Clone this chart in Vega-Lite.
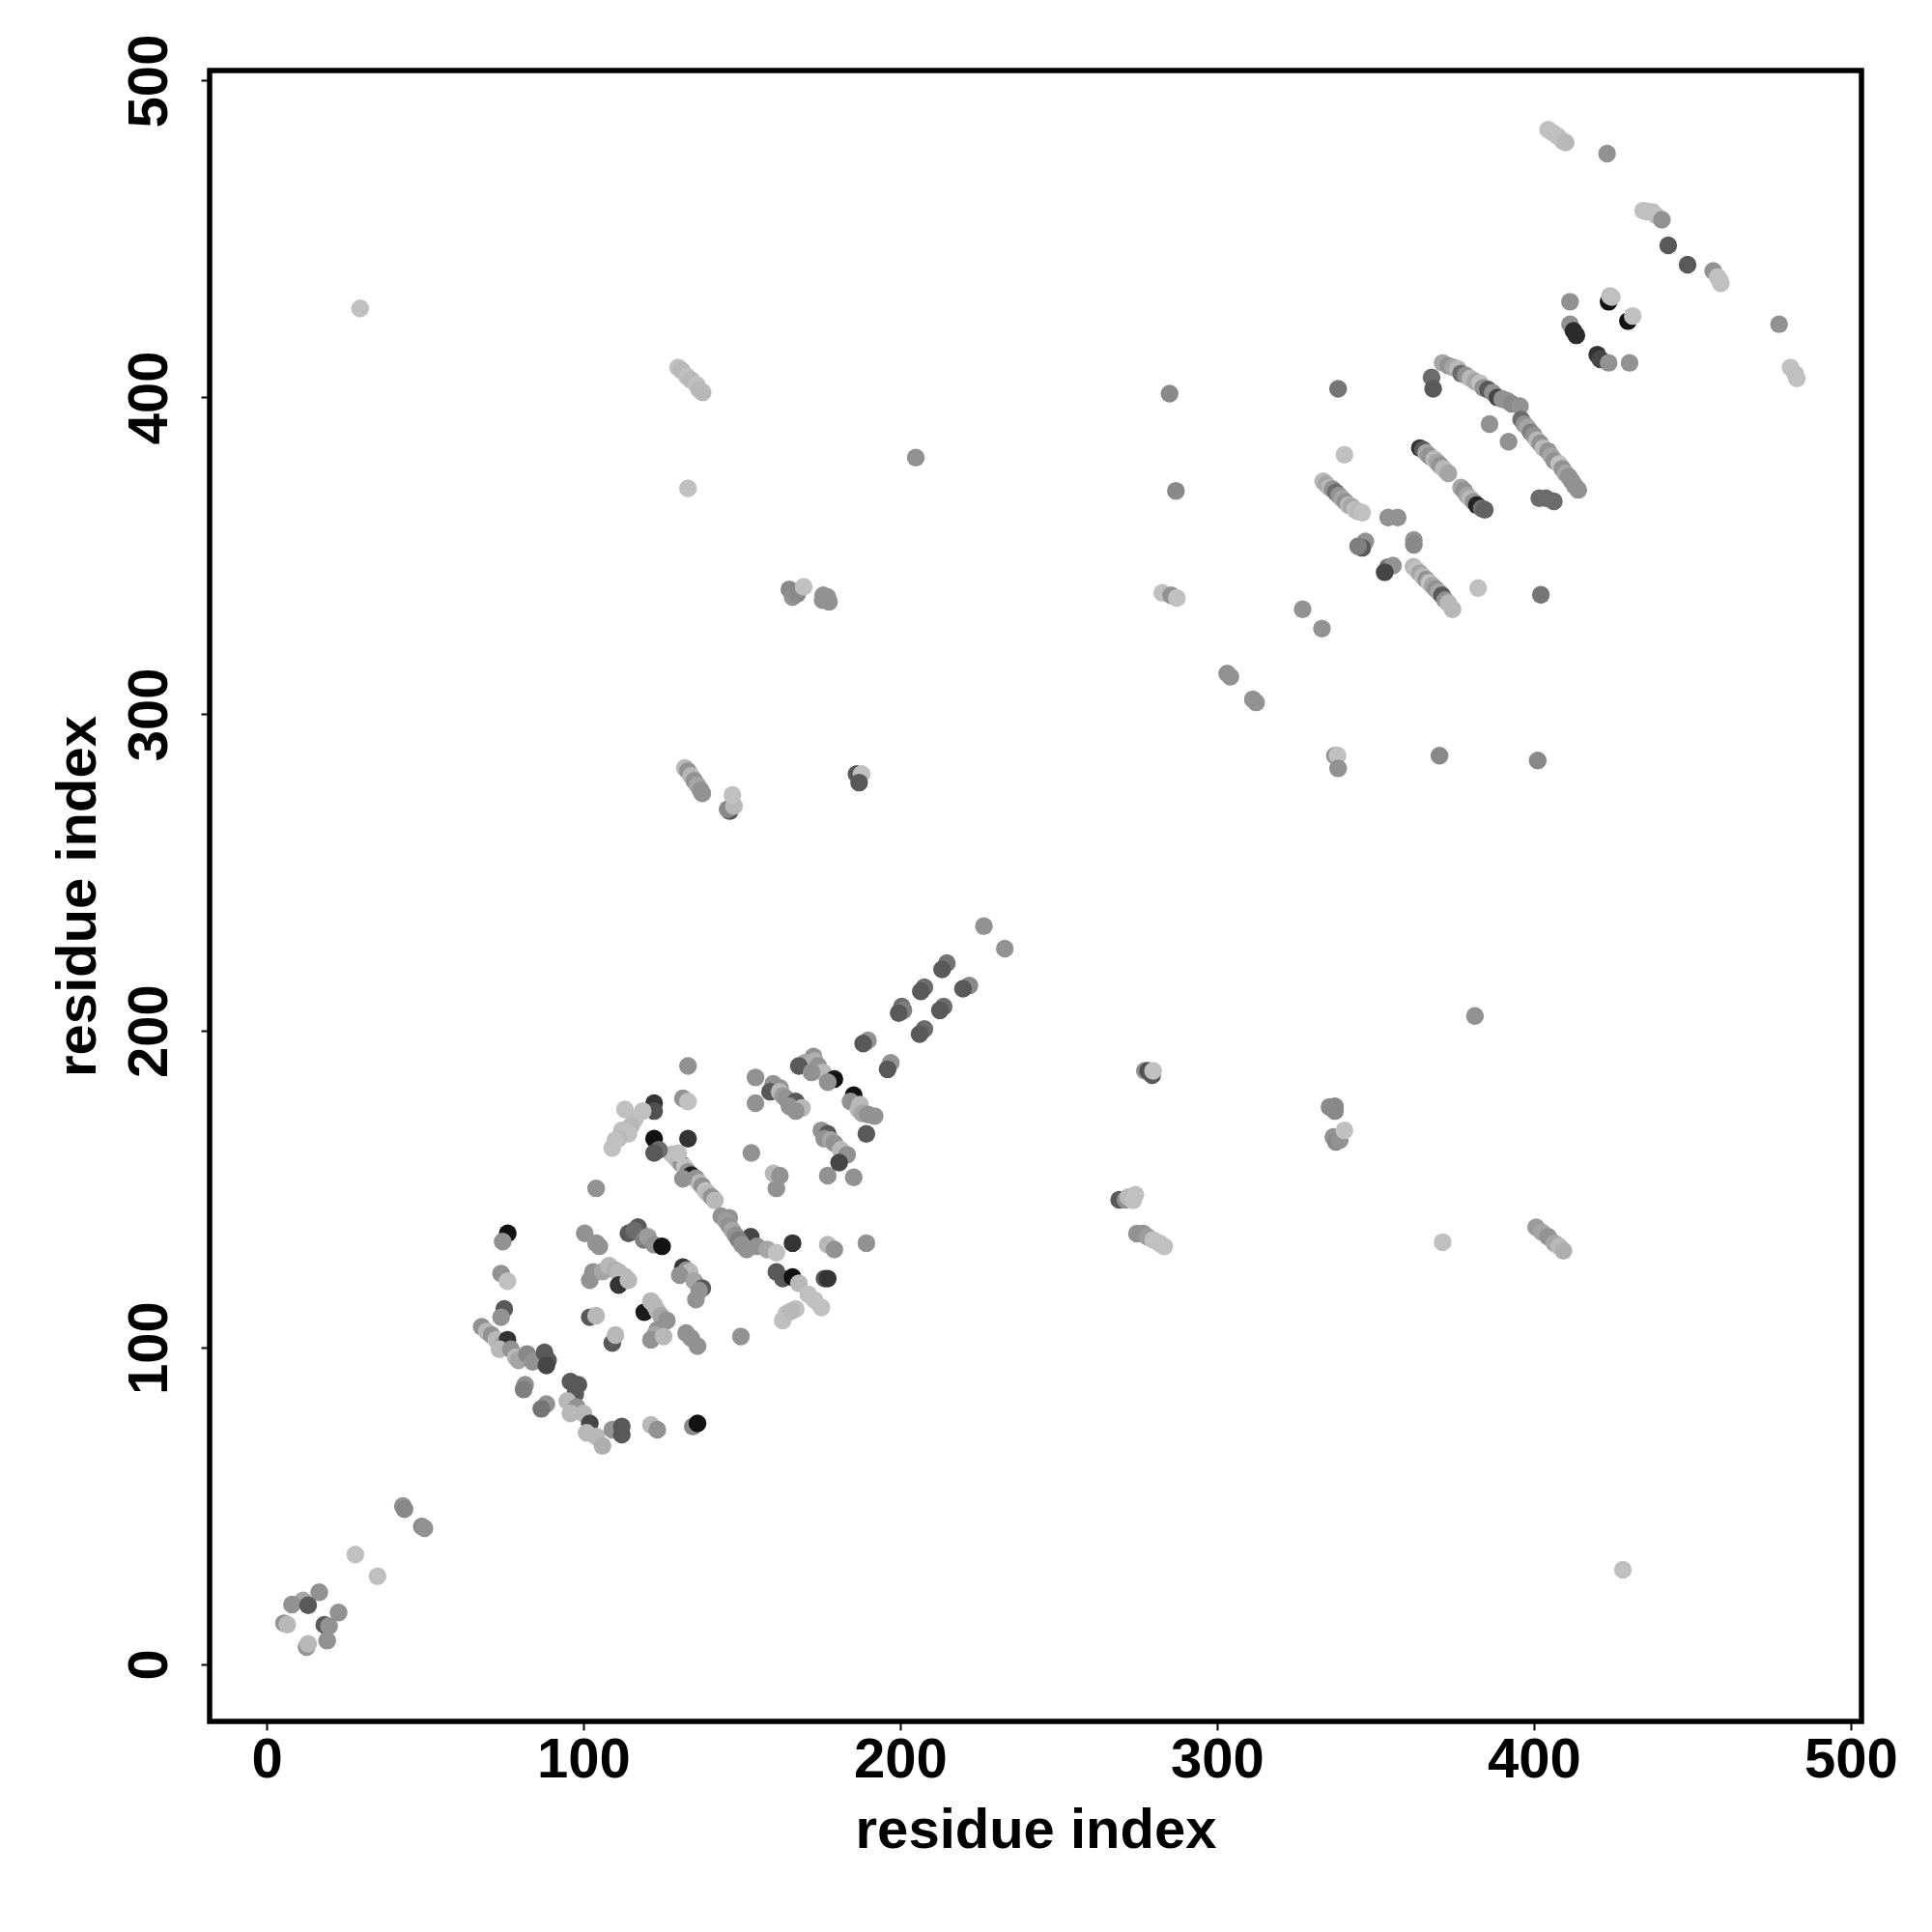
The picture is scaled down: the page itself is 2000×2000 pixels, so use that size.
{
"$schema": "https://vega.github.io/schema/vega-lite/v6.json",
"width": 1710, "height": 1709,
"autosize": {"type": "none"},
"padding": {"left": 217, "top": 73, "right": 73, "bottom": 218},
"background": "white",
"config": {"view": {"stroke": "black", "strokeWidth": 5.5}, "font": "Liberation Sans"},
"data": {"values": [
{"i":43,"j":50,"g":0.3},{"i":43.5,"j":49,"g":0.35},{"i":49,"j":43.5,"g":0.35},{"i":49.8,"j":43,"g":0.3},{"i":28,"j":34.7,"g":0.05},{"i":35,"j":27.8,"g":0.05},
{"i":5.5,"j":13,"g":0.3},{"i":6.5,"j":12.6,"g":0.1},{"i":11.5,"j":20.2,"g":0.2},{"i":16.6,"j":22.8,"g":0.3},{"i":8,"j":18.9,"g":0.3},{"i":13.1,"j":18.7,"g":0.6},{"i":22.7,"j":16.4,"g":0.3},{"i":18.2,"j":12.5,"g":0.6},{"i":19.7,"j":12.1,"g":0.3},{"i":12.6,"j":5.5,"g":0.3},{"i":13.1,"j":6.5,"g":0.1},{"i":19.1,"j":7.5,"g":0.3},
{"i":104,"j":150.3,"g":0.3},
{"i":76.1,"j":136.1,"g":1},{"i":74.5,"j":133.5,"g":0.3},
{"i":74,"j":123.4,"g":0.3},{"i":76,"j":121,"g":0.05},
{"i":75,"j":112.2,"g":0.6},{"i":74,"j":109.6,"g":0.3},
{"i":67.9,"j":106.6,"g":0.3},{"i":69.5,"j":105.1,"g":0.1},{"i":71,"j":104,"g":0.3},{"i":72.5,"j":102.5,"g":0.1},{"i":74.5,"j":101,"g":0.2},{"i":76,"j":102.5,"g":0.8},{"i":73.5,"j":99.5,"g":0.1},{"i":77.1,"j":99.5,"g":0.3},{"i":78.6,"j":97,"g":0.1},{"i":79.5,"j":96,"g":0.2},{"i":82.2,"j":98,"g":0.35},{"i":84,"j":95.5,"g":0.3},{"i":87.7,"j":98.5,"g":0.6},{"i":88.8,"j":96,"g":0.6},{"i":88.3,"j":94.4,"g":0.7},{"i":81.6,"j":88.3,"g":0.3},{"i":81.1,"j":86.8,"g":0.4},{"i":88.3,"j":82.2,"g":0.3},{"i":86.7,"j":80.7,"g":0.45},
{"i":95.9,"j":89.3,"g":0.6},{"i":98.4,"j":88.3,"g":0.6},{"i":97.4,"j":85.3,"g":0.6},{"i":94.9,"j":83.2,"g":0.1},{"i":97.9,"j":81.2,"g":0.3},{"i":95.9,"j":79.2,"g":0.1},{"i":100,"j":79.2,"g":0.1},{"i":102,"j":76.1,"g":0.7},{"i":101,"j":73.1,"g":0.1},{"i":104,"j":72,"g":0.1},{"i":106,"j":69,"g":0.15},{"i":109.1,"j":74.1,"g":0.3},{"i":112.1,"j":75.1,"g":0.6},{"i":112.1,"j":72.6,"g":0.6},
{"i":121.3,"j":75.6,"g":0.1},{"i":123.3,"j":74.1,"g":0.3},
{"i":134.5,"j":75.1,"g":0.35},{"i":136,"j":76.1,"g":1},
{"i":100.4,"j":136.1,"g":0.3},{"i":104,"j":133,"g":0.3},{"i":105,"j":132,"g":0.3},
{"i":114.2,"j":136.1,"g":0.6},{"i":117.2,"j":138.1,"g":0.6},{"i":116,"j":137,"g":0.5},{"i":119,"j":134,"g":0.4},{"i":120.3,"j":135,"g":0.25},{"i":122.3,"j":132.5,"g":0.3},{"i":124.8,"j":132,"g":1},
{"i":103,"j":123.9,"g":0.3},{"i":102,"j":121.3,"g":0.3},{"i":106,"j":124,"g":0.2},{"i":108.1,"j":125.9,"g":0.1},{"i":110,"j":124.5,"g":0.15},{"i":111.1,"j":123.9,"g":0.1},{"i":113,"j":122.5,"g":0.1},{"i":111.1,"j":119.8,"g":0.8},{"i":114.2,"j":121.3,"g":0.1},
{"i":131.4,"j":125.4,"g":0.8},{"i":132.5,"j":124.5,"g":0.3},{"i":133.5,"j":123.9,"g":0.1},{"i":130.4,"j":122.9,"g":0.3},{"i":135,"j":121,"g":0.2},{"i":137.5,"j":118.8,"g":0.6},{"i":136.5,"j":118,"g":0.3},{"i":135.5,"j":115.2,"g":0.3},
{"i":119.2,"j":111.2,"g":0.95},{"i":121.3,"j":114.7,"g":0.1},{"i":122.3,"j":113.5,"g":0.1},{"i":123.3,"j":111.7,"g":0.1},{"i":124.5,"j":110,"g":0.2},{"i":126.3,"j":108.6,"g":0.3},{"i":123.3,"j":105.6,"g":0.3},{"i":122.5,"j":104,"g":0.2},{"i":121.3,"j":102.5,"g":0.3},{"i":125.3,"j":103.5,"g":0.1},
{"i":102,"j":109.6,"g":0.6},{"i":104,"j":110.1,"g":0.1},
{"i":109.1,"j":101.5,"g":0.6},{"i":110.1,"j":104,"g":0.1},
{"i":132.4,"j":104.6,"g":0.3},{"i":134,"j":103,"g":0.3},{"i":136,"j":100.5,"g":0.3},
{"i":149.7,"j":103.5,"g":0.3},
{"i":160.9,"j":150.3,"g":0.3},
{"i":152.8,"j":135,"g":0.7},{"i":154.8,"j":132,"g":0.3},{"i":158,"j":131,"g":0.2},{"i":160.9,"j":130,"g":0.05},{"i":166,"j":133,"g":0.8},
{"i":160.9,"j":123.9,"g":0.6},{"i":162.9,"j":121.8,"g":0.6},{"i":166,"j":122.3,"g":1},{"i":168,"j":120.3,"g":0.1},{"i":171,"j":116.8,"g":0.05},{"i":173,"j":115,"g":0.05},{"i":175.1,"j":112.7,"g":0.05},{"i":164,"j":110.7,"g":0.05},{"i":167,"j":112.2,"g":0.05},{"i":162.9,"j":108.6,"g":0.05},{"i":165.5,"j":111.5,"g":0.1},
{"i":176.1,"j":121.8,"g":0.6},{"i":177.1,"j":121.8,"g":0.8},
{"i":177.1,"j":132.5,"g":0.1},{"i":179.2,"j":131,"g":0.3},{"i":189.3,"j":133,"g":0.3},
{"i":128,"j":161,"g":0.1},{"i":129,"j":160,"g":0.05},{"i":130,"j":159,"g":0.1},{"i":131,"j":158,"g":0.3},{"i":132,"j":157,"g":0.05},{"i":133,"j":155.5,"g":0.3},{"i":134,"j":154.5,"g":0.9},{"i":135.5,"j":153.5,"g":0.3},{"i":136.5,"j":152,"g":0.1},{"i":137.5,"j":151,"g":0.3},{"i":138.5,"j":149.5,"g":0.05},{"i":139.5,"j":148.5,"g":0.1},{"i":140.5,"j":147.5,"g":0.3},{"i":141.5,"j":146.5,"g":0.1},
{"i":143.5,"j":141.5,"g":0.3},{"i":146,"j":141,"g":0.3},{"i":145,"j":140,"g":0.25},{"i":146,"j":138.5,"g":0.3},{"i":147,"j":137,"g":0.2},{"i":148,"j":135.5,"g":0.3},{"i":149,"j":134,"g":0.4},{"i":150,"j":132.5,"g":0.3},{"i":151.5,"j":131,"g":0.3},
{"i":133,"j":188.9,"g":0.3},
{"i":122.3,"j":177.2,"g":0.8},{"i":122.3,"j":174.7,"g":0.65},
{"i":131.4,"j":178.7,"g":0.3},{"i":133,"j":177.7,"g":0.05},
{"i":113.1,"j":175.2,"g":0.05},{"i":116.2,"j":172.1,"g":0.05},{"i":118.7,"j":174.7,"g":0.05},{"i":115,"j":170,"g":0.1},{"i":112.1,"j":168.6,"g":0.05},{"i":114.2,"j":167.5,"g":0.05},{"i":111,"j":166,"g":0.1},{"i":110.1,"j":165.5,"g":0.05},{"i":109.1,"j":163,"g":0.05},
{"i":122.3,"j":166,"g":1},{"i":123.8,"j":162.5,"g":0.5},{"i":122.3,"j":161.5,"g":0.6},
{"i":133,"j":166,"g":0.8},{"i":129.9,"j":161.4,"g":0.05},
{"i":131.4,"j":153.3,"g":0.3},
{"i":153,"j":161.5,"g":0.3},{"i":160,"j":155,"g":0.1},{"i":162,"j":154.3,"g":0.3},{"i":177.1,"j":154.3,"g":0.3},{"i":185.3,"j":153.8,"g":0.3},
{"i":226.4,"j":233.1,"g":0.3},{"i":233,"j":226,"g":0.3},
{"i":214.7,"j":221.4,"g":0.45},{"i":213.2,"j":219.4,"g":0.6},{"i":221.8,"j":214.3,"g":0.35},{"i":219.8,"j":213.3,"g":0.6},{"i":207.6,"j":213.8,"g":0.5},{"i":206.5,"j":212.5,"g":0.6},{"i":213.7,"j":207.7,"g":0.5},{"i":212.5,"j":206.5,"g":0.6},{"i":200.5,"j":207.7,"g":0.5},{"i":201,"j":206.5,"g":0.4},{"i":199.5,"j":205.6,"g":0.6},{"i":207.6,"j":200.6,"g":0.5},{"i":206.1,"j":199,"g":0.6},
{"i":189.8,"j":197,"g":0.3},{"i":188.3,"j":196,"g":0.6},{"i":197,"j":189.9,"g":0.3},{"i":196,"j":187.9,"g":0.6},
{"i":172.6,"j":191.9,"g":0.3},{"i":170,"j":190,"g":0.2},{"i":173,"j":190.5,"g":0.15},{"i":168,"j":188.9,"g":0.6},{"i":174.1,"j":188.9,"g":0.3},{"i":175.6,"j":186.9,"g":0.1},{"i":172,"j":186.9,"g":0.3},{"i":179.2,"j":184.8,"g":1},{"i":177.1,"j":183.8,"g":0.3},
{"i":154.3,"j":185.3,"g":0.3},{"i":154.3,"j":177.2,"g":0.3},
{"i":159.9,"j":183.3,"g":0.3},{"i":162,"j":182,"g":0.3},{"i":158.9,"j":180.8,"g":0.6},{"i":161.9,"j":180.8,"g":0.1},{"i":163,"j":179.5,"g":0.25},{"i":163.9,"j":178.7,"g":0.3},{"i":167,"j":177.7,"g":0.6},{"i":165,"j":176.2,"g":0.3},{"i":169,"j":175.7,"g":0.1},{"i":167,"j":174.7,"g":0.3},
{"i":185.3,"j":179.7,"g":1},{"i":184.3,"j":177.7,"g":0.3},{"i":187.3,"j":176.7,"g":0.1},{"i":186.8,"j":175.2,"g":0.1},{"i":188,"j":174,"g":0.2},{"i":189.8,"j":173.6,"g":0.3},{"i":191.9,"j":173.1,"g":0.3},{"i":189.3,"j":167.5,"g":0.6},
{"i":175.1,"j":168.6,"g":0.3},{"i":177.1,"j":167.5,"g":0.6},{"i":176,"j":166,"g":0.3},{"i":178,"j":165.5,"g":0.2},{"i":179.2,"j":164.5,"g":0.3},{"i":181.2,"j":162.5,"g":0.1},{"i":183.2,"j":160.9,"g":0.3},{"i":180.7,"j":158.4,"g":0.7},
{"i":29.5,"j":428.1,"g":0.05},
{"i":129.9,"j":409.4,"g":0.05},{"i":131,"j":408.5,"g":0.1},{"i":132.6,"j":406.7,"g":0.05},{"i":134,"j":405.5,"g":0.1},{"i":135.7,"j":404,"g":0.05},{"i":136.5,"j":402.5,"g":0.1},{"i":137.6,"j":401.6,"g":0.1},
{"i":133,"j":371.3,"g":0.05},{"i":204.9,"j":381,"g":0.3},
{"i":165,"j":339.4,"g":0.35},{"i":166,"j":337,"g":0.3},{"i":167.5,"j":338,"g":0.35},{"i":169.5,"j":340.2,"g":0.05},{"i":175.7,"j":337.5,"g":0.3},{"i":177,"j":337,"g":0.3},{"i":175.5,"j":336,"g":0.3},{"i":177.5,"j":335.5,"g":0.3},
{"i":132,"j":283,"g":0.1},{"i":133,"j":282,"g":0.3},{"i":134,"j":280.5,"g":0.1},{"i":135,"j":279,"g":0.3},{"i":136,"j":277.5,"g":0.2},{"i":137,"j":276,"g":0.3},{"i":137.5,"j":275,"g":0.3},
{"i":146.2,"j":269.4,"g":0.6},{"i":145.5,"j":270,"g":0.35},{"i":147.5,"j":271,"g":0.1},{"i":147,"j":274.5,"g":0.05},
{"i":186.2,"j":281.1,"g":0.6},{"i":187.8,"j":281.1,"g":0.05},{"i":187,"j":278.4,"g":0.6},
{"i":277.2,"j":187.4,"g":0.3},{"i":278.2,"j":187.4,"g":0.65},{"i":279.5,"j":186,"g":0.6},{"i":279.8,"j":187.4,"g":0.05},
{"i":337.2,"j":176.2,"g":0.35},{"i":335.5,"j":176,"g":0.35},{"i":337.2,"j":174.7,"g":0.35},
{"i":336.7,"j":166.5,"g":0.3},{"i":337.5,"j":165,"g":0.35},{"i":338.7,"j":165.5,"g":0.3},{"i":340.2,"j":168.6,"g":0.05},
{"i":269.1,"j":146.7,"g":0.6},{"i":271.1,"j":146.7,"g":0.3},{"i":272,"j":147.5,"g":0.1},{"i":273.5,"j":146.5,"g":0.05},{"i":274.2,"j":148.3,"g":0.05},
{"i":274.7,"j":136,"g":0.3},{"i":276.7,"j":136,"g":0.3},{"i":278,"j":135,"g":0.25},{"i":279.8,"j":134,"g":0.05},{"i":281.8,"j":133,"g":0.05},{"i":283.3,"j":132,"g":0.05},
{"i":381.4,"j":204.7,"g":0.3},{"i":371.2,"j":133.3,"g":0.05},
{"i":400.7,"j":138,"g":0.25},{"i":402.5,"j":136.5,"g":0.2},{"i":404.5,"j":135,"g":0.3},{"i":406.5,"j":133,"g":0.2},{"i":408,"j":132,"g":0.1},{"i":409.3,"j":130.6,"g":0.15},
{"i":428.1,"j":29.9,"g":0.05},
{"i":338.2,"j":402.7,"g":0.45},{"i":367.7,"j":406.3,"g":0.5},{"i":368.2,"j":402.7,"g":0.6},
{"i":371.2,"j":410.9,"g":0.2},{"i":373,"j":410,"g":0.3},{"i":374.5,"j":409.5,"g":0.2},{"i":376,"j":409,"g":0.1},{"i":377,"j":407.5,"g":0.5},{"i":378.5,"j":407,"g":0.3},{"i":380,"j":406,"g":0.1},{"i":381.5,"j":405,"g":0.2},{"i":383,"j":404.5,"g":0.05},{"i":384,"j":403,"g":0.3},{"i":385.5,"j":402.5,"g":0.6},{"i":387,"j":401.5,"g":0.3},{"i":388.5,"j":400,"g":0.7},{"i":390,"j":399.5,"g":0.3},{"i":391.5,"j":399,"g":0.3},{"i":393,"j":398,"g":0.35},{"i":395.6,"j":397.2,"g":0.3},
{"i":386,"j":391.6,"g":0.3},{"i":392,"j":386,"g":0.3},
{"i":396,"j":393,"g":0.5},{"i":397,"j":391.5,"g":0.3},{"i":398,"j":390.5,"g":0.2},{"i":399,"j":389,"g":0.4},{"i":400,"j":388,"g":0.3},{"i":401,"j":386.5,"g":0.1},{"i":402,"j":385.5,"g":0.3},{"i":403,"j":384,"g":0.1},{"i":404.5,"j":383,"g":0.3},{"i":405.5,"j":381.5,"g":0.2},{"i":406.5,"j":380,"g":0.3},{"i":408,"j":379,"g":0.05},{"i":409,"j":377.5,"g":0.3},{"i":410,"j":376,"g":0.2},{"i":411,"j":375,"g":0.3},{"i":412,"j":373.5,"g":0.3},{"i":413,"j":372,"g":0.3},{"i":414,"j":370.8,"g":0.3},
{"i":340.2,"j":381.9,"g":0.05},
{"i":364,"j":384,"g":0.8},{"i":365,"j":383.5,"g":0.6},{"i":366,"j":382.5,"g":0.2},{"i":367,"j":381.5,"g":0.3},{"i":368.5,"j":380.5,"g":0.1},{"i":369.5,"j":379.5,"g":0.2},{"i":370.5,"j":378.5,"g":0.3},{"i":371.5,"j":377.5,"g":0.1},{"i":373,"j":376,"g":0.2},
{"i":377,"j":371.5,"g":0.2},{"i":378,"j":370.5,"g":0.3},{"i":379,"j":369,"g":0.2},{"i":380,"j":368,"g":0.1},{"i":381,"j":367,"g":0.3},{"i":382,"j":366,"g":0.9},{"i":383.5,"j":365,"g":0.5},{"i":384.5,"j":364.5,"g":0.55},
{"i":401.7,"j":368.2,"g":0.5},{"i":403.8,"j":368.2,"g":0.5},{"i":406.3,"j":367.2,"g":0.5},
{"i":333.5,"j":373.5,"g":0.1},{"i":334.5,"j":372.5,"g":0.2},{"i":335.5,"j":371.5,"g":0.1},{"i":336.5,"j":371,"g":0.3},{"i":337.5,"j":370,"g":0.5},{"i":338.5,"j":369,"g":0.3},{"i":339.5,"j":368,"g":0.2},{"i":340.5,"j":367,"g":0.3},{"i":341.5,"j":366,"g":0.1},{"i":342.5,"j":365.5,"g":0.2},{"i":343.5,"j":364.5,"g":0.05},{"i":344.5,"j":364,"g":0.1},{"i":345.8,"j":363.6,"g":0.05},
{"i":354,"j":362.1,"g":0.3},{"i":357,"j":362.1,"g":0.3},
{"i":346.8,"j":354.5,"g":0.3},{"i":345.8,"j":352.5,"g":0.6},{"i":344.5,"j":353,"g":0.4},
{"i":362.1,"j":355,"g":0.3},{"i":362.1,"j":353.5,"g":0.35},
{"i":353.9,"j":346.4,"g":0.45},{"i":355.5,"j":346.9,"g":0.3},{"i":352.9,"j":344.8,"g":0.7},
{"i":362,"j":346.5,"g":0.1},{"i":363,"j":345.5,"g":0.05},{"i":364,"j":344.5,"g":0.2},{"i":365,"j":343.5,"g":0.1},{"i":366,"j":342.5,"g":0.3},{"i":367,"j":341.5,"g":0.05},{"i":368,"j":340.5,"g":0.2},{"i":369,"j":339.5,"g":0.3},{"i":370,"j":338.5,"g":0.2},{"i":371,"j":337.5,"g":0.6},{"i":372,"j":336,"g":0.3},{"i":373,"j":335,"g":0.1},{"i":374.3,"j":333.1,"g":0.1},
{"i":382.4,"j":339.8,"g":0.05},{"i":402.2,"j":337.7,"g":0.45},
{"i":327,"j":333.1,"g":0.3},{"i":333.1,"j":327,"g":0.3},
{"i":303.2,"j":312.8,"g":0.3},{"i":304.2,"j":311.8,"g":0.3},{"i":311.3,"j":304.7,"g":0.3},{"i":312.3,"j":303.7,"g":0.3},
{"i":337.2,"j":286.9,"g":0.3},{"i":338,"j":287,"g":0.05},{"i":338.2,"j":282.9,"g":0.3},{"i":370.2,"j":286.9,"g":0.35},{"i":401.2,"j":285.4,"g":0.35},
{"i":285,"j":401.2,"g":0.35},{"i":287,"j":370.5,"g":0.35},{"i":282.7,"j":338.3,"g":0.05},{"i":285.5,"j":337.5,"g":0.3},{"i":287.3,"j":336.7,"g":0.05},
{"i":404.5,"j":484.5,"g":0.05},{"i":406,"j":483.5,"g":0.05},{"i":407.5,"j":482.5,"g":0.05},{"i":409,"j":481,"g":0.05},{"i":410,"j":480.5,"g":0.1},
{"i":423.1,"j":477,"g":0.3},
{"i":434.5,"j":459,"g":0.05},{"i":435.8,"j":458.7,"g":0.05},{"i":437.5,"j":458.5,"g":0.05},{"i":438.5,"j":457.5,"g":0.05},{"i":440.4,"j":456.1,"g":0.3},
{"i":442.4,"j":448,"g":0.6},{"i":448.5,"j":441.9,"g":0.6},
{"i":456.6,"j":439.9,"g":0.3},{"i":458,"j":438,"g":0.05},{"i":458.7,"j":436.8,"g":0.05},{"i":459,"j":436,"g":0.05},
{"i":411.4,"j":430.2,"g":0.3},{"i":411.4,"j":423.1,"g":0.3},{"i":412.5,"j":421,"g":0.85},{"i":413.4,"j":419.6,"g":0.85},
{"i":423.6,"j":430.2,"g":1},{"i":424,"j":432,"g":0.1},{"i":424.6,"j":431.7,"g":0.05},
{"i":429.7,"j":424.1,"g":1},{"i":431.2,"j":425.7,"g":0.05},
{"i":420,"j":413.5,"g":0.8},{"i":421,"j":412,"g":0.7},{"i":423.6,"j":410.9,"g":0.3},{"i":430.2,"j":410.9,"g":0.3},
{"i":477.4,"j":423.1,"g":0.3},
{"i":481,"j":409.4,"g":0.05},{"i":482.5,"j":407.4,"g":0.05},{"i":483,"j":406,"g":0.05}
]},
"mark": {"type": "circle", "opacity": 1, "size": 340},
"encoding": {
"x": {"field": "i", "type": "quantitative",
 "scale": {"domain": [-18, 503.4], "nice": false, "zero": false},
 "axis": {"title": "residue index", "values": [0,100,200,300,400,500], "grid": false, "domain": false,
  "tickColor": "black", "tickWidth": 2, "tickSize": 9,
  "labelFont": "Liberation Sans", "labelFontWeight": "bold", "labelFontSize": 58, "labelColor": "black",
  "labelPadding": 48, "labelBaseline": "alphabetic", "labelFlush": false, "labelOverlap": false,
  "titleFont": "Liberation Sans", "titleFontWeight": "bold", "titleFontSize": 58, "titleColor": "black",
  "titleX": 855, "titleY": 130, "titleBaseline": "alphabetic", "titleAlign": "center"}},
"y": {"field": "j", "type": "quantitative",
 "scale": {"domain": [-18, 503.2], "nice": false, "zero": false},
 "axis": {"title": "residue index", "values": [0,100,200,300,400,500], "grid": false, "domain": false,
  "tickColor": "black", "tickWidth": 2, "tickSize": 9,
  "labelFont": "Liberation Sans", "labelFontWeight": "bold", "labelFontSize": 58, "labelColor": "black",
  "labelAngle": -90, "labelAlign": "center", "labelBaseline": "alphabetic", "labelPadding": 36, "labelFlush": false, "labelOverlap": false,
  "titleFont": "Liberation Sans", "titleFontWeight": "bold", "titleFontSize": 58, "titleColor": "black",
  "titleAngle": -90, "titleX": -119, "titleY": 854.5, "titleBaseline": "alphabetic", "titleAlign": "center"}},
"color": {"field": "g", "type": "quantitative", "scale": {"type": "pow", "exponent": 1.1, "domain": [0, 1], "range": ["#c8c8c8", "#121212"]}, "legend": null}
}
}
